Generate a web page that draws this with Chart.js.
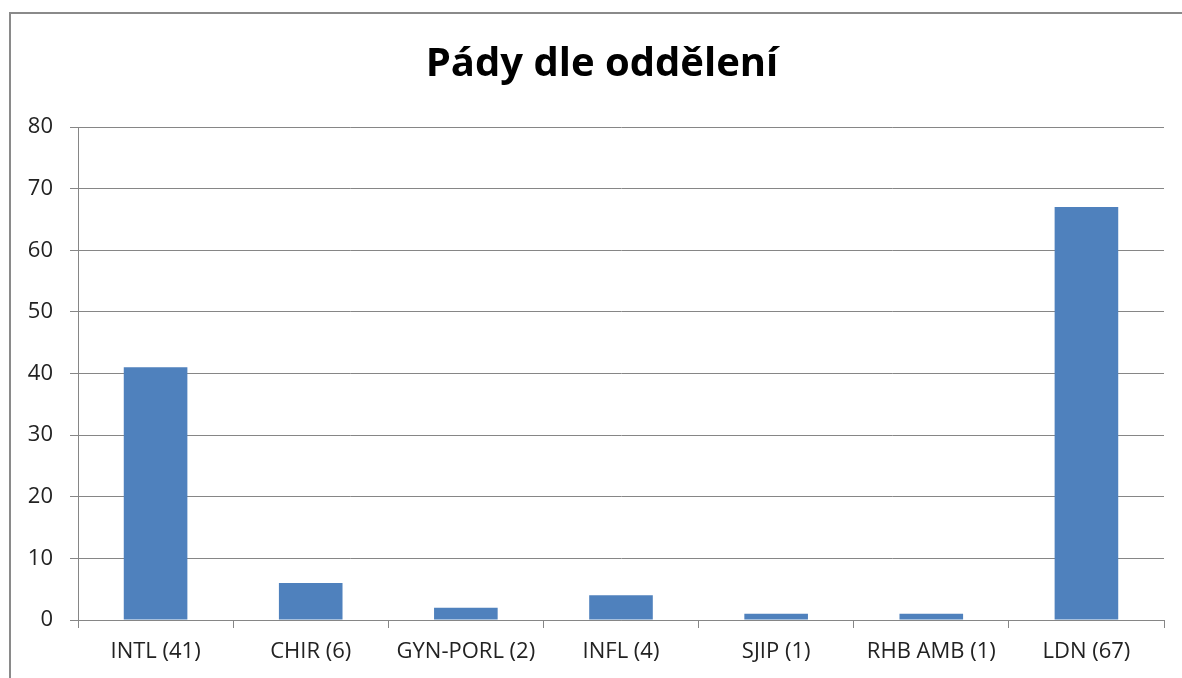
<!DOCTYPE html>
<html>
<head>
<meta charset="utf-8">
<script src="https://cdn.jsdelivr.net/npm/chart.js@4"></script>
<style>
  html, body { margin: 0; padding: 0; background: #fff; overflow: hidden; }
  #frame { position: absolute; left: 9px; top: 12px; width: 1400px; height: 900px; border: 2px solid #8a8a8a; }
  #chart { position: absolute; left: 0; top: 0; }
</style>
</head>
<body>
<div id="frame"></div>
<canvas id="chart" width="1182" height="678"></canvas>
<script>
const categories = ['INTL (41)', 'CHIR (6)', 'GYN-PORL (2)', 'INFL (4)', 'SJIP (1)', 'RHB AMB (1)', 'LDN (67)'];
const falls = [41, 6, 2, 4, 1, 1, 67];
const yTicks = {min: 0, max: 80, step: 10};

const fontFamily = '"Open Sans", sans-serif';

// the title sits a bit right of the plot centre in the original
const shiftTitle = {
  id: 'shiftTitle',
  afterLayout(chart) {
    const t = chart.titleBlock;
    if (t) { t.left += 20; t.right += 20; }
  }
};

const chart = new Chart(document.getElementById('chart').getContext('2d'), {
  type: 'bar',
  data: {
    labels: categories,
    datasets: [{
      label: 'Pády',
      data: falls,
      backgroundColor: '#4F81BD',
      borderWidth: 0,
      barPercentage: 0.41,
      categoryPercentage: 1
    }]
  },
  plugins: [shiftTitle],
  options: {
    responsive: false,
    devicePixelRatio: 1,
    animation: false,
    layout: {padding: {left: 0, right: 18, top: 0, bottom: 0}},
    plugins: {
      legend: {display: false},
      tooltip: {enabled: false},
      title: {
        display: true,
        text: 'Pády dle oddělení',
        color: '#000',
        font: {family: fontFamily, size: 40, weight: 'bold'},
        padding: {top: 41, bottom: 38}
      }
    },
    scales: {
      x: {
        grid: {offset: true, drawOnChartArea: false, drawTicks: true, tickLength: 8, color: '#868686'},
        border: {color: '#868686', width: 1},
        ticks: {color: '#222', font: {family: fontFamily, size: 22}, padding: 11, maxRotation: 0, autoSkip: false},
        afterFit: function (scale) { scale.height = 58; }
      },
      y: {
        min: yTicks.min,
        max: yTicks.max,
        grid: {color: '#868686', tickLength: 8},
        border: {color: '#868686', width: 1},
        ticks: {stepSize: yTicks.step, color: '#222', font: {family: fontFamily, size: 22}, padding: 17},
        afterFit: function (scale) { scale.width = 78; }
      }
    }
  }
});
</script>
</body>
</html>
